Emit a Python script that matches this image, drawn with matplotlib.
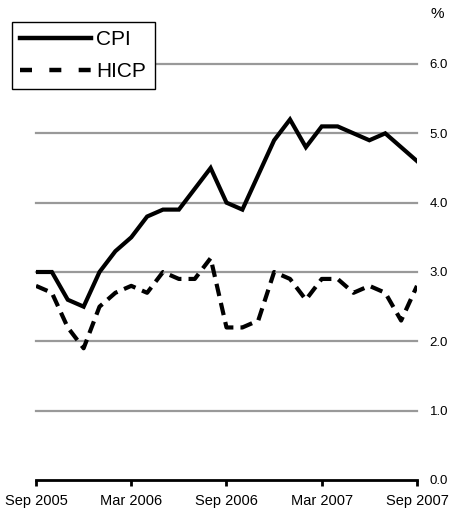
import matplotlib
matplotlib.use("Agg")
import matplotlib.pyplot as plt
from matplotlib.lines import Line2D

plt.rcParams['font.family'] = ['Liberation Sans', 'DejaVu Sans']

MONTHS = ["Sep 2005", "Oct 2005", "Nov 2005", "Dec 2005", "Jan 2006", "Feb 2006",
          "Mar 2006", "Apr 2006", "May 2006", "Jun 2006", "Jul 2006", "Aug 2006",
          "Sep 2006", "Oct 2006", "Nov 2006", "Dec 2006", "Jan 2007", "Feb 2007",
          "Mar 2007", "Apr 2007", "May 2007", "Jun 2007", "Jul 2007", "Aug 2007",
          "Sep 2007"]
CPI = [3.0, 3.0, 2.6, 2.5, 3.0, 3.3, 3.5, 3.8, 3.9, 3.9, 4.2, 4.5,
       4.0, 3.9, 4.4, 4.9, 5.2, 4.8, 5.1, 5.1, 5.0, 4.9, 5.0, 4.8, 4.6]
HICP = [2.8, 2.7, 2.2, 1.9, 2.5, 2.7, 2.8, 2.7, 3.0, 2.9, 2.9, 3.2,
        2.2, 2.2, 2.3, 3.0, 2.9, 2.6, 2.9, 2.9, 2.7, 2.8, 2.7, 2.3, 2.8]
TICK_MONTHS = ["Sep 2005", "Mar 2006", "Sep 2006", "Mar 2007", "Sep 2007"]
Y_TICKS = [0, 1, 2, 3, 4, 5, 6]

x = list(range(len(MONTHS)))

fig = plt.figure(figsize=(4.52, 5.12), dpi=100)
ax = fig.add_axes([36 / 452, 1 - 480 / 512, (417 - 36) / 452, (480 - 64) / 512])

for v in Y_TICKS[1:]:
    ax.axhline(v, color="#999999", lw=1.6, zorder=1, clip_on=False)

ax.plot(x, CPI, color="black", lw=3.0, solid_joinstyle="miter", zorder=3)
ax.plot(x, HICP, color="black", lw=3.0, dashes=(3.0, 1.7), zorder=3)

ax.set_xlim(0, len(MONTHS) - 1)
ax.set_ylim(0, 6)

for s in ["top", "left", "right"]:
    ax.spines[s].set_visible(False)
ax.spines["bottom"].set_linewidth(2)

ax.set_xticks([MONTHS.index(m) for m in TICK_MONTHS])
ax.set_xticklabels(TICK_MONTHS, fontsize=10.5)
ax.tick_params(axis="x", length=4, width=2, pad=6)

ax.yaxis.tick_right()
ax.set_yticks(Y_TICKS)
ax.set_yticklabels(["%.1f" % v for v in Y_TICKS], fontsize=9.5)
ax.tick_params(axis="y", length=0, pad=9)

fig.text(437 / 452, 1 - 14 / 512, "%", fontsize=11, ha="center", va="center")

handles = [Line2D([], [], color="black", lw=3.2),
           Line2D([], [], color="black", lw=3.2, dashes=(2.7, 3.9))]
leg = fig.legend(handles, ["CPI", "HICP"], loc="upper left",
                 bbox_to_anchor=(12 / 452, 1 - 22 / 512), fontsize=15,
                 frameon=True, fancybox=False, framealpha=1, edgecolor="black",
                 handlelength=3.4, handletextpad=0.25, borderpad=0.4,
                 labelspacing=0.6, borderaxespad=0)
leg.get_frame().set_linewidth(1)
leg.set_zorder(5)

fig.savefig("out.png", dpi=100)
